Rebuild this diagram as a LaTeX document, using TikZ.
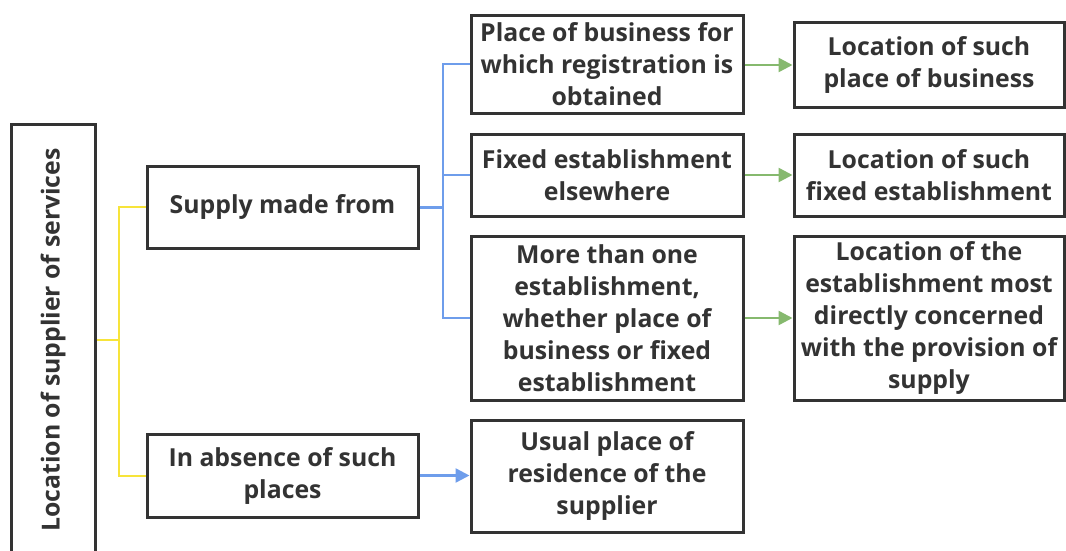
\documentclass[tikz,border=0pt]{standalone}
\usepackage{fontspec}
\setmainfont{Open Sans}
\usetikzlibrary{arrows.meta}
\definecolor{ink}{HTML}{333333}
\definecolor{yel}{HTML}{F7E43A}
\definecolor{blu}{HTML}{6E9DEB}
\definecolor{grn}{HTML}{86B96E}
\tikzset{
  txtfont/.style={font=\bfseries\fontsize{24.8}{32}\selectfont},
  box/.style={draw=ink, line width=3pt, fill=white, inner sep=2pt, align=center,
    text=ink, txtfont},
  ylink/.style={draw=yel, line width=2pt},
  blink/.style={draw=blu, line width=2pt},
  garrow/.style={draw=grn, line width=2.5pt, -{Triangle[length=14pt,width=14pt]}},
  barrow/.style={draw=blu, line width=2.5pt, -{Triangle[length=14pt,width=14pt]}},
}
\begin{document}
\begin{tikzpicture}[x=1pt,y=-1pt]
\useasboundingbox (0,0) rectangle (1066,551);
\clip (0,0) rectangle (1066,551);
% left root box
\node[box, minimum width=84pt, minimum height=432pt] (L) at (53,340) {};
\node[rotate=90, text=ink, txtfont] (Lt) at (L.center) {Location of supplier of services};
% middle column
\node[box, minimum width=271pt, minimum height=82pt] (S) at (282.5,207) {Supply made from};
\node[box, minimum width=271pt, minimum height=83pt] (I) at (282.5,475.5) {In absence of such\\places};
% third column
\node[box, minimum width=272pt, minimum height=97pt] (A) at (607,64.5) {Place of business for\\which registration is\\obtained};
\node[box, minimum width=272pt, minimum height=82pt] (B) at (607,175) {Fixed establishment\\elsewhere};
\node[box, minimum width=272pt, minimum height=164pt] (C) at (607,318) {More than one\\establishment,\\whether place of\\business or fixed\\establishment};
\node[box, minimum width=272pt, minimum height=112pt] (D) at (607,476) {Usual place of\\residence of the\\supplier};
% fourth column
\node[box, minimum width=270pt, minimum height=84pt] (E) at (929,65) {Location of such\\place of business};
\node[box, minimum width=270pt, minimum height=82pt] (F) at (929,175) {Location of such\\fixed establishment};
\node[box, minimum width=270pt, minimum height=164pt] (G) at (929,318) {Location of the\\establishment most\\directly concerned\\with the provision of\\supply};
% yellow connectors
\coordinate (yj) at (119,340);
\draw[ylink] (L.east |- yj) -- (yj);
\draw[ylink] (yj) |- (S.west);
\draw[ylink] (yj) |- (I.west);
% blue tree
\coordinate (bj) at (443,207);
\draw[blink, line width=3pt] (S.east) -- (bj);
\draw[blink] (bj) |- (A.west);
\draw[blink] (bj) |- (B.west);
\draw[blink] (bj) |- (C.west);
% arrows
\draw[garrow] (A.east |- E.west) -- (E.west);
\draw[garrow] (B.east) -- (F.west);
\draw[garrow] (C.east) -- (G.west);
\draw[barrow] (I.east) -- (D.west |- I.east);
\end{tikzpicture}
\end{document}
